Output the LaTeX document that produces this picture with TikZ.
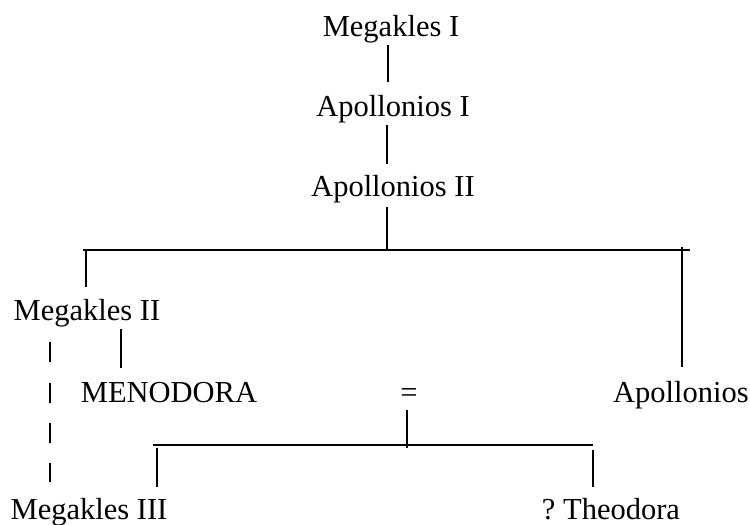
\documentclass[tikz,border=0pt]{standalone}
\usepackage{fontspec}
\setmainfont{Liberation Serif}
\frenchspacing
\begin{document}
\begin{tikzpicture}[x=1pt,y=-1pt,
  person/.style={anchor=base,inner sep=2pt,font=\fontsize{30.5}{36}\selectfont},
  vline/.style={line width=2pt},
  hline/.style={line width=1.4pt},
  dline/.style={line width=1.4pt,dash pattern=on 20pt off 20.3pt}]
\useasboundingbox (0,0) rectangle (750,525);
% people
\node[person] (m1) at (391,36) {Megakles I};
\node[person] (a1) at (393,116) {Apollonios I};
\node[person] (a2) at (393,196) {Apollonios II};
\node[person] (m2) at (87,320) {Megakles II};
\node[person] (men) at (169,402) {MENODORA};
\node[person] (eq) at (409,402) {=};
\node[person] (ap) at (681,402) {Apollonios};
\node[person] (m3) at (89,519) {Megakles III};
\node[person] (th) at (611,519) {?\ Theodora};
% columns and junctions
\coordinate (cA) at (388,0);
\coordinate (cB) at (387,0);
\coordinate (cL) at (86,0);
\coordinate (cR) at (682,0);
\coordinate (cM) at (121,0);
\coordinate (cD) at (50,0);
\coordinate (cE) at (407,0);
\coordinate (cK) at (157,0);
\coordinate (bus1L) at (83,250);
\coordinate (bus1R) at (690,250);
\coordinate (bus2L) at (153,445);
\coordinate (bus2R) at (593,445);
% top line of descent
\draw[vline] (m1.south -| cA) -- ([yshift=10.5pt]a1.north -| cA);
\draw[vline] (a1.south -| cB) -- ([yshift=8.5pt]a2.north -| cB);
\draw[vline] ([yshift=-2.5pt]a2.south -| cB) -- (bus1L -| cB);
\draw[hline] (bus1L) -- (bus1R);
\draw[vline] (bus1L -| cL) -- ([yshift=10pt]m2.north -| cL);
\draw[vline] ([yshift=3pt]bus1R -| cR) -- ([yshift=11.5pt]ap.north -| cR);
% Megakles II to Menodora
\draw[vline] (m2.south -| cM) -- ([yshift=12pt]men.north -| cM);
\draw[dline] ([yshift=-13.5pt]m2.south -| cD) -- ([yshift=14pt]m3.north -| cD);
% marriage and children
\draw[vline] ([yshift=-6pt]eq.south -| cE) -- ([yshift=-3pt]bus2L -| cE);
\draw[hline] (bus2L) -- (bus2R);
\draw[vline] ([yshift=-3pt]bus2L -| cK) -- ([yshift=9pt]m3.north -| cK);
\draw[vline] ([yshift=-5pt]bus2R) -- ([yshift=9pt]th.north -| bus2R);
\end{tikzpicture}
\end{document}
